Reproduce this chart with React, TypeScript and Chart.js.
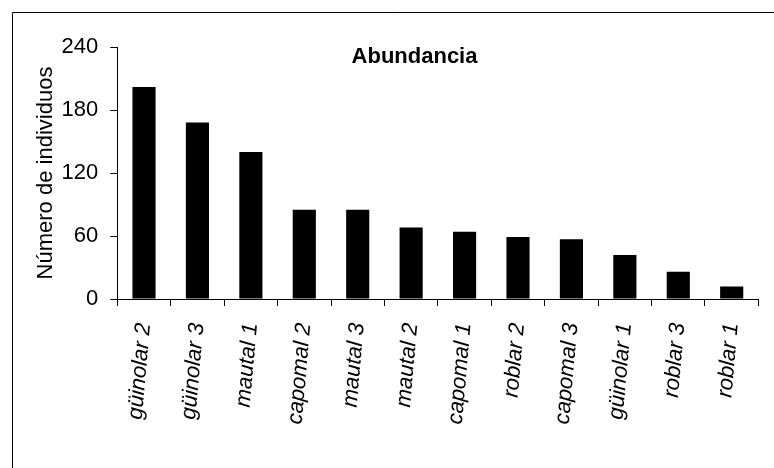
import React, { useEffect, useRef } from "react";
import { Chart, registerables } from "chart.js";

Chart.register(...registerables);

const categories = [
  "güinolar 2",
  "güinolar 3",
  "mautal 1",
  "capomal 2",
  "mautal 3",
  "mautal 2",
  "capomal 1",
  "roblar 2",
  "capomal 3",
  "güinolar 1",
  "roblar 3",
  "roblar 1",
];
const abundance = [202, 168, 140, 85, 85, 68, 64, 59, 57, 42, 26, 12];
const yTicks = [0, 60, 120, 180, 240];
const chartTitle = "Abundancia";
const yAxisTitle = "Número de individuos";

const FONT = "'Liberation Sans', Arial, sans-serif";

const framePlugin = {
  id: "frame",
  beforeDraw(chart: any) {
    const { ctx, width, height } = chart;
    ctx.save();
    ctx.fillStyle = "#fff";
    ctx.fillRect(0, 0, width, height);
    ctx.strokeStyle = "#000";
    ctx.lineWidth = 1;
    ctx.beginPath();
    ctx.moveTo(12.5, height);
    ctx.lineTo(12.5, 12.5);
    ctx.lineTo(width, 12.5);
    ctx.stroke();
    ctx.restore();
  },
};

const titlePlugin = {
  id: "innerTitle",
  afterDraw(chart: any) {
    const { ctx, chartArea } = chart;
    ctx.save();
    ctx.font = `bold 22px ${FONT}`;
    ctx.fillStyle = "#000";
    ctx.textAlign = "center";
    ctx.textBaseline = "alphabetic";
    const x = chartArea.left + chartArea.width * 0.4636;
    const y = chartArea.top + 16;
    ctx.fillText(chartTitle, x, y);
    ctx.restore();
  },
};

export default function App() {
  const canvasRef = useRef<HTMLCanvasElement | null>(null);

  useEffect(() => {
    if (!canvasRef.current) return;
    const chart = new Chart(canvasRef.current, {
      type: "bar",
      data: {
        labels: categories,
        datasets: [
          {
            label: chartTitle,
            data: abundance,
            backgroundColor: "#000",
            borderColor: "#000",
            borderWidth: 0,
            barPercentage: 0.433,
            categoryPercentage: 1,
          },
        ],
      },
      options: {
        responsive: false,
        animation: false,
        layout: { padding: { left: 12, top: 47, right: 0, bottom: 0 } },
        plugins: {
          legend: { display: false },
          tooltip: { enabled: false },
          title: { display: false },
        },
        scales: {
          x: {
            grid: {
              display: true,
              drawOnChartArea: false,
              drawTicks: true,
              tickLength: 7,
              color: "#000",
              offset: true,
            },
            border: { display: true, color: "#000", width: 1 },
            ticks: {
              font: { family: FONT, size: 22, style: "italic" },
              color: "#000",
              minRotation: 85,
              maxRotation: 85,
              padding: 16,
              autoSkip: false,
            },
            afterFit: (s: any) => {
              s.height = 169;
            },
          },
          y: {
            min: 0,
            max: 240,
            afterBuildTicks: (s: any) => {
              s.ticks = yTicks.map((v) => ({ value: v }));
            },
            ticks: {
              font: { family: FONT, size: 22 },
              color: "#000",
              padding: 12,
            },
            grid: {
              drawOnChartArea: false,
              drawTicks: true,
              tickLength: 7,
              color: "#000",
            },
            border: { display: true, color: "#000", width: 1 },
            title: {
              display: true,
              text: yAxisTitle,
              font: { family: FONT, size: 22 },
              color: "#000",
              padding: { top: 21, bottom: 0 },
            },
            afterFit: (s: any) => {
              s.width = 105.3;
            },
          },
        },
      },
      plugins: [framePlugin, titlePlugin],
    });
    return () => chart.destroy();
  }, []);

  return (
    <div
      style={{
        position: "fixed",
        left: 0,
        top: 0,
        width: 774,
        height: 468,
        background: "#fff",
      }}
    >
      <canvas ref={canvasRef} width={774} height={468} />
    </div>
  );
}
